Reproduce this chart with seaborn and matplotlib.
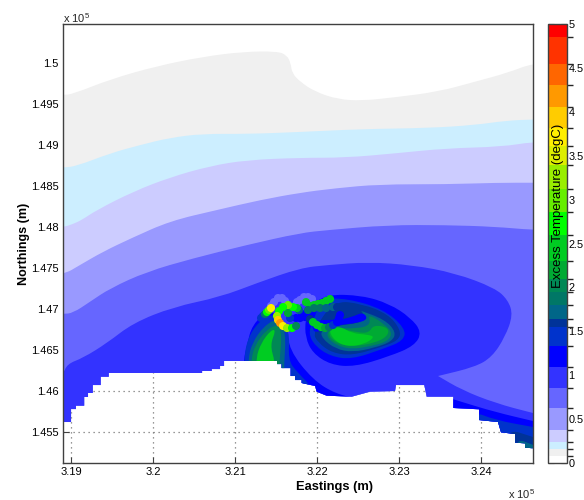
import numpy as np
import matplotlib
matplotlib.use('Agg')
import matplotlib.pyplot as plt
import seaborn as sns
from matplotlib.cm import ScalarMappable
from matplotlib.colors import BoundaryNorm, ListedColormap
from matplotlib.patches import PathPatch, Polygon
from matplotlib.path import Path

# colour scale of the temperature bands
levels = [0, .08, .16, .235, .38, .63, .855, 1.09, 1.33, 1.55, 1.64, 1.8, 1.95, 2.1, 2.3,
          2.6, 2.86, 3.12, 3.39, 3.61, 3.82, 4.05, 4.30, 4.54, 4.85, 5]
band_colors = ['#ffffff', '#f0f0f0', '#cceeff', '#ccccff', '#9999ff', '#6666ff', '#3333ff', '#0000ff',
               '#0033cc', '#003399', '#006688', '#007766', '#008855', '#00aa33', '#00cc22',
               '#00ff00', '#66ee00', '#99ee00', '#ddee00', '#ffee00', '#ffcc00', '#ff9900',
               '#ff6600', '#ff3300', '#ff0000']

x_ticks = [319000, 320000, 321000, 322000, 323000, 324000]
x_labels = ['3.19', '3.2', '3.21', '3.22', '3.23', '3.24']
y_ticks = [145500, 146000, 146500, 147000, 147500, 148000, 148500, 149000, 149500, 150000]
y_labels = ['1.455', '1.46', '1.465', '1.47', '1.475', '1.48', '1.485', '1.49', '1.495', '1.5']
cbar_ticks = [0, .5, 1, 1.5, 2, 2.5, 3, 3.5, 4, 4.5, 5]
cbar_labels = ['0', '0.5', '1', '1.5', '2', '2.5', '3', '3.5', '4', '4.5', '5']

x_min, x_max = 318902, 324634
y_min, y_max = 145122, 150476

# coast line, everything under it is land and has no data
coast_e = [318902, 319000, 319000, 319060, 319060, 319160, 319160, 319207, 319207, 319265, 319265, 319362,
           319362, 319460, 319460, 320598, 320598, 320716, 320716, 320817, 320817, 320866, 320866, 321512,
           321512, 321569, 321569, 321679, 321679, 321732, 321732, 321813, 321813, 321976, 321996, 322118,
           322423, 322646, 322951, 322963, 323308, 323338, 323662, 323662, 323976, 323976, 324207, 324244,
           324415, 324415, 324537, 324537, 324618, 324634]
coast_n = [145622, 145622, 145780, 145780, 145821, 145821, 145927, 145927, 145976, 145976, 146073, 146073,
           146174, 146174, 146220, 146220, 146244, 146244, 146268, 146268, 146305, 146305, 146366, 146366,
           146329, 146329, 146280, 146280, 146183, 146183, 146134, 146134, 146098, 146061, 145992, 145943,
           145931, 145992, 146000, 146073, 146073, 145931, 145931, 145793, 145777, 145646, 145622, 145496,
           145476, 145370, 145362, 145309, 145303, 145303]

# open band edges, filled down to the bottom of the map
edge1_e = [318902, 319024, 319476, 320045, 320610, 321098, 321512, 321630, 321679, 321695, 321793, 321976,
           322256, 322549, 322951, 323476, 323927, 324329, 324634]
edge1_n = [149610, 149622, 149801, 149963, 150077, 150138, 150143, 150098, 150000, 149878, 149772, 149650,
           149557, 149540, 149582, 149650, 149772, 149882, 150000]
edge2_e = [318902, 319070, 319476, 319841, 320207, 320610, 321143, 321793, 322549, 323354, 323927, 324293, 324634]
edge2_n = [148723, 148744, 148899, 149000, 149089, 149138, 149134, 149159, 149195, 149207, 149244, 149296, 149313]
edge3_e = [318902, 319024, 319130, 319313, 319756, 320207, 320695, 321143, 321793, 322341, 322963, 323573,
           324256, 324634]
edge3_n = [147996, 148037, 148085, 148207, 148431, 148606, 148744, 148817, 148845, 148845, 148899, 148960,
           148979, 149040]
edge4_e = [318902, 319110, 319390, 319740, 320207, 320777, 321305, 321793, 322219, 322756, 323573, 324195, 324634]
edge4_n = [147415, 147537, 147699, 147866, 148073, 148207, 148329, 148418, 148472, 148521, 148521, 148540, 148540]
edge5_e = [318902, 319024, 319232, 319476, 319923, 320488, 321143, 321793, 322134, 322866, 323561, 324171, 324634]
edge5_n = [146939, 146951, 147089, 147252, 147455, 147618, 147781, 147927, 147963, 148024, 148024, 148004, 147963]

# closed bands, the wedge tip is repeated so it stays sharp
core_e = [318500, 318902, 318951, 319146, 319439, 319756, 320244, 320817, 321268, 321793, 322134, 322622, 323158,
          323683, 324171, 324329, 324390, 324293, 324134, 323927, 323476, 323476, 323476, 323768, 324171, 324622,
          325000, 325000, 318500]
core_n = [146100, 146195, 146329, 146403, 146585, 146829, 147024, 147146, 147317, 147500, 147537, 147573, 147537,
          147439, 147256, 147110, 146927, 146659, 146415, 146293, 146183, 146183, 146183, 146012, 145854, 145732,
          145650, 145000, 145000]

gyre_halo_e = [322113, 322549, 322882, 323138, 323279, 323188, 322882, 322459, 322165, 321947, 321857, 321857, 321908]
gyre_halo_n = [147179, 147166, 147064, 146897, 146718, 146551, 146423, 146295, 146320, 146462, 146655, 146872, 147026]
gyre_a_e = [322049, 322369, 322806, 323075, 323061, 322806, 322421, 322165, 321973, 321896, 321947]
gyre_a_n = [147128, 147128, 147000, 146769, 146616, 146513, 146385, 146423, 146551, 146705, 146833]
gyre_b_e = [322202, 322549, 322870, 323023, 322998, 322754, 322433, 322189, 322010, 321946]
gyre_b_n = [147102, 147064, 146936, 146744, 146616, 146526, 146435, 146462, 146590, 146719]
gyre_c_e = [322500, 322823, 322965, 322913, 322694, 322435, 322229, 322060, 322047, 322241, 322565, 322565]
gyre_c_n = [146991, 146874, 146719, 146603, 146526, 146473, 146512, 146641, 146745, 146797, 146835, 146964]
gyre_d_e = [322619, 322829, 322921, 322855, 322658, 322421, 322224, 322105, 322171, 322500, 322658]
gyre_d_n = [146944, 146812, 146706, 146601, 146548, 146508, 146561, 146680, 146772, 146759, 146812]
gyre_e_e = [322688, 322862, 322875, 322728, 322420, 322218, 322125, 322218, 322500, 322634]
gyre_e_n = [146805, 146778, 146684, 146591, 146537, 146591, 146711, 146778, 146711, 146711]
gyre_f_e = [322136, 322282, 322428, 322618, 322707, 322575, 322370, 322209]
gyre_f_n = [146761, 146790, 146702, 146688, 146659, 146570, 146541, 146614]
crescent_e = [321939, 322256, 322427, 322561, 322622, 322500, 322256, 322073, 321951]
crescent_n = [146866, 146866, 146902, 146963, 146878, 146829, 146805, 146744, 146707]

arm_a_e = [321098, 321146, 321207, 321427, 321634, 321660, 321951, 322232, 322524, 322524, 321098]
arm_a_n = [146354, 146561, 146805, 147012, 146805, 146500, 146134, 145963, 145902, 145585, 145585]
arm_b_e = [321110, 321146, 321280, 321488, 321671, 321646, 321756, 321951, 321951, 321110]
arm_b_n = [146378, 146622, 146841, 146963, 146744, 146378, 146232, 146037, 145768, 145768]
arm_c_e = [321159, 321207, 321353, 321524, 321622, 321598, 321598, 321159]
arm_c_n = [146378, 146585, 146793, 146890, 146720, 146317, 146073, 146073]
arm_d_e = [321195, 321244, 321378, 321524, 321573, 321537, 321537, 321195]
arm_d_n = [146378, 146561, 146744, 146817, 146683, 146317, 146073, 146073]
arm_e_e = [321256, 321317, 321439, 321500, 321427, 321488, 321488, 321256]
arm_e_n = [146403, 146585, 146744, 146744, 146561, 146354, 146134, 146134]

shore_a_e = [323415, 323768, 324171, 324634, 325000, 325000, 323415]
shore_a_n = [145976, 145866, 145744, 145634, 145547, 145000, 145000]
shore_b_e = [323866, 324171, 324634, 325000, 325000, 323866]
shore_b_n = [145768, 145646, 145561, 145494, 145000, 145000]
shore_c_e = [324293, 324634, 325000, 325000, 324293]
shore_c_n = [145549, 145439, 145322, 145000, 145000]
shore_d_e = [324415, 324634, 325000, 325000, 324415]
shore_d_n = [145427, 145342, 145214, 145000, 145000]

# plume spots near the outfall
plume_e = [321439, 321476, 321524, 321573, 321610,
           321732, 321756, 321793, 321841, 321890, 321939,
           321317, 321341, 321366, 321390, 321415, 321439,
           321854, 321817, 321793, 321744, 321671, 321646,
           321780, 321756, 321707, 321646, 321585, 321537, 321512, 321524, 321549, 321585, 321634, 321695, 321744,
           321866, 321915, 321963, 322012, 322061, 322110, 322159,
           321890, 321963, 322037, 322110, 322195, 322244,
           321915, 321951, 322000, 322049, 322098, 322146, 322195, 322244, 322268, 322280]
plume_n = [147037, 147085, 147134, 147134, 147098,
           147037, 147085, 147110, 147146, 147146, 147122,
           146890, 146915, 146939, 146963, 146988, 147012,
           146902, 146939, 146890, 146890, 146890, 146951,
           146988, 147012, 147024, 147049, 147024, 146976, 146915, 146866, 146829, 146793, 146768, 146768, 146793,
           147085, 147037, 147049, 147061, 147073, 147098, 147122,
           146988, 147012, 147012, 147012, 147024, 147024,
           146878, 146841, 146805, 146780, 146768, 146780, 146805, 146841, 146890, 146927]
plume_t = [.75, .75, .75, .75, .75,
           .75, .75, .75, .75, .75, .75,
           1.5, 1.5, 1.9, 2.7, 3.0, 3.7,
           1.2, 1.2, 1.2, 1.2, 1.5, 2.2,
           1.7, 2.5, 2.7, 2.9, 2.7, 2.7, 3.3, 3.9, 4.2, 3.7, 3.2, 2.6, 2.0,
           2.5, 2.5, 2.5, 2.5, 2.5, 2.5, 2.5,
           1.9, 1.9, 1.8, 1.7, 1.65, 1.6,
           1.6, 2.4, 2.5, 2.5, 2.2, 1.9, 1.5, 1.3, 1.2, 1.2]


def band_color(value):
    return band_colors[np.searchsorted(levels, value, side='right') - 1]


sns.set_theme(style='ticks')
plt.rcParams['font.family'] = ['Liberation Sans', 'DejaVu Sans']
plt.rcParams['mathtext.default'] = 'regular'

cmap = ListedColormap(sns.color_palette(band_colors, n_colors=len(band_colors)))
norm = BoundaryNorm(levels, cmap.N)

fig = plt.figure(figsize=(5.84, 5.0), dpi=100)
ax = fig.add_axes([63 / 584, 37 / 500, 470 / 584, 439 / 500])
ax.set_xlim(x_min, x_max)
ax.set_ylim(y_min, y_max)

# grid sits below all the bands, so it only shows on land
ax.vlines(x_ticks, y_min, y_max, color='#777777', lw=0.9, ls=(0, (1, 3)), zorder=0.5)
ax.hlines(y_ticks, x_min, x_max, color='#777777', lw=0.9, ls=(0, (1, 3)), zorder=0.5)

sea = Polygon(list(zip(coast_e + [x_max, x_min], coast_n + [y_max, y_max])), transform=ax.transData)


def fill_band(east, north, level):
    # contour edges are round, so the read points are used as curve controls
    pts = np.column_stack([east, north]).astype(float)
    mids = (pts + np.roll(pts, -1, axis=0)) / 2
    verts = [mids[-1]]
    codes = [Path.MOVETO]
    for p, m in zip(pts, mids):
        verts += [p, m]
        codes += [Path.CURVE3, Path.CURVE3]
    patch = PathPatch(Path(verts, codes), facecolor=band_color(level), edgecolor='none', lw=0, zorder=1)
    ax.add_patch(patch)
    patch.set_clip_path(sea)


def fill_below(east, north, level):
    fill_band([east[0] - 400] + east + [east[-1] + 400, x_max + 400, x_min - 400],
              [north[0]] + north + [north[-1], y_min - 300, y_min - 300], level)


# top of the map is a real band too, so it hides the grid
fill_band([x_min - 9000, x_max + 9000, x_max + 9000, x_min - 9000],
          [y_max + 9000, y_max + 9000, y_min - 9000, y_min - 9000], 0.0)
fill_below(edge1_e, edge1_n, 0.1)
fill_below(edge2_e, edge2_n, 0.2)
fill_below(edge3_e, edge3_n, 0.3)
fill_below(edge4_e, edge4_n, 0.5)
fill_below(edge5_e, edge5_n, 0.7)
fill_band(core_e, core_n, 1.0)

fill_band(gyre_halo_e, gyre_halo_n, 1.2)
fill_band(gyre_a_e, gyre_a_n, 1.4)
fill_band(gyre_b_e, gyre_b_n, 1.6)
fill_band(gyre_c_e, gyre_c_n, 1.7)
fill_band(gyre_d_e, gyre_d_n, 2.0)
fill_band(gyre_e_e, gyre_e_n, 2.2)
fill_band(gyre_f_e, gyre_f_n, 2.4)
fill_band(crescent_e, crescent_n, 1.2)

fill_band(arm_a_e, arm_a_n, 1.2)
fill_band(arm_b_e, arm_b_n, 1.4)
fill_band(arm_c_e, arm_c_n, 1.7)
fill_band(arm_d_e, arm_d_n, 2.0)
fill_band(arm_e_e, arm_e_n, 2.4)

fill_band(shore_a_e, shore_a_n, 1.2)
fill_band(shore_b_e, shore_b_n, 1.4)
fill_band(shore_c_e, shore_c_n, 1.6)
fill_band(shore_d_e, shore_d_n, 1.7)

plume_palette = {t: band_color(t) for t in set(plume_t)}
sns.scatterplot(x=plume_e, y=plume_n, hue=plume_t, palette=plume_palette, s=34, linewidth=0,
                legend=False, zorder=3, ax=ax)

ax.set_xticks(x_ticks)
ax.set_xticklabels(x_labels)
ax.set_yticks(y_ticks)
ax.set_yticklabels(y_labels)
ax.tick_params(direction='in', top=True, right=True, length=4, width=0.8, color='#404040',
               labelsize=8, labelcolor='black', pad=3)
for spine in ax.spines.values():
    spine.set_color('#404040')
    spine.set_linewidth(1.0)

ax.set_xlabel('Eastings (m)', fontsize=9.3, fontweight='bold', color='black')
ax.xaxis.set_label_coords(0.577, -0.041)
ax.set_ylabel('Northings (m)', fontsize=9, fontweight='bold', labelpad=1, color='black')
ax.text(0, 0.998, r'x 10$^{5}$', transform=ax.transAxes, fontsize=8, ha='left', va='bottom')
ax.text(1.004, -0.054, r'x 10$^{5}$', transform=ax.transAxes, fontsize=8, ha='right', va='top')

cax = fig.add_axes([548 / 584, 37 / 500, 19 / 584, 439 / 500])
cbar = fig.colorbar(ScalarMappable(norm=norm, cmap=cmap), cax=cax, spacing='proportional', ticks=cbar_ticks,
                    drawedges=False)
cbar.ax.set_yticklabels(cbar_labels)
cbar.ax.tick_params(direction='in', left=True, right=True, length=4, width=0.8, color='#404040',
                    labelsize=7.8, labelcolor='black', pad=1)
cbar.outline.set_edgecolor('#404040')
cbar.outline.set_linewidth(1.0)
cbar.ax.text(0.55, 2.93, 'Excess Temperature (degC)', rotation=90, ha='center', va='center', fontsize=9.5,
             color='black', transform=cbar.ax.get_yaxis_transform())

fig.savefig('out.png', dpi=100)
